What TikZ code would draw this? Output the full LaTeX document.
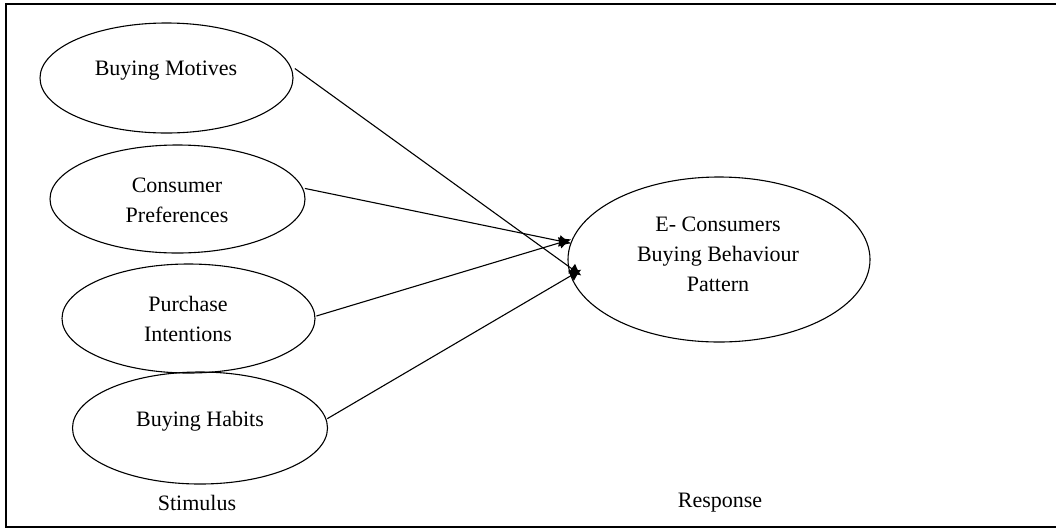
\documentclass[tikz,border=0pt]{standalone}
\usepackage{fontspec}
\setmainfont{Liberation Serif}
\usetikzlibrary{shapes.geometric,arrows.meta}
\begin{document}
\begin{tikzpicture}[x=1pt,y=-1pt,
  oval/.style={draw, ellipse, line width=1.1pt, inner sep=0pt},
  lbl/.style={font=\fontsize{22}{30}\selectfont, align=center, inner sep=0pt},
  link/.style={line width=1.1pt, -{Latex[length=12pt,width=12pt]}}]
\useasboundingbox (0,0) rectangle (1056,531);
% outer frame (open on the right)
\draw[line width=2pt] (1056,4) -- (6,4) -- (6,527) -- (1056,527);

% stimulus ovals
\node[oval, minimum width=253pt, minimum height=110pt] (motives) at (166.5,78) {};
\node[oval, minimum width=255pt, minimum height=108pt] (prefs) at (177.5,199) {};
\node[oval, minimum width=253pt, minimum height=109pt] (intent) at (188.5,318.5) {};
\node[oval, minimum width=255pt, minimum height=112pt] (habits) at (200,428) {};
% response oval
\node[oval, minimum width=302pt, minimum height=165pt] (ecb) at (719,259.5) {};

% oval texts
\node[lbl] (tmotives) at (166,71) {Buying Motives};
\node[lbl] (tprefs) at (177,200) {Consumer\\Preferences};
\node[lbl] (tintent) at (188,319) {Purchase\\Intentions};
\node[lbl] (thabits) at (200,421) {Buying Habits};
\node[lbl] (tecb) at (718,254) {E- Consumers\\Buying Behaviour\\Pattern};

% column captions
\node[lbl] (stim) at (197,503) {Stimulus};
\node[lbl] (resp) at (720,503) {Response};

% arrow end points on the response oval
\coordinate (tipup) at (ecb.173);
\coordinate (tiplow) at ([xshift=12pt]ecb.185);

% connectors
\draw[link, shorten <=6pt] (motives.6) -- ([yshift=-3pt]tiplow);
\draw[link, shorten <=2pt] (prefs.5) -- ([yshift=-2pt]tipup);
\draw[link, shorten <=1pt] (intent.1) -- ([yshift=2pt]tipup);
\draw[link, shorten <=1pt] (habits.4) -- ([yshift=3pt]tiplow);
\end{tikzpicture}
\end{document}
